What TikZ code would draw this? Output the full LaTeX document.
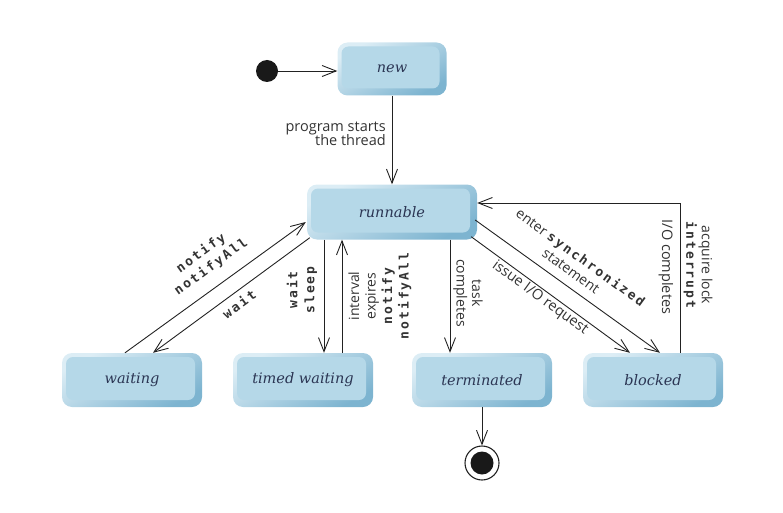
\documentclass[tikz,border=0pt]{standalone}
\usepackage{fontspec}
\setmainfont{Open Sans}
\newfontfamily\statefont{DejaVu Serif}
\newfontfamily\codefont[LetterSpace=16]{DejaVu Sans Mono}
\usetikzlibrary{arrows.meta,calc}

\definecolor{rimlight}{HTML}{DCEDF5}
\definecolor{rimdark}{HTML}{7DB4D0}
\definecolor{boxface}{HTML}{B5D8E8}
\definecolor{statetext}{HTML}{2B3553}
\definecolor{linecol}{HTML}{222222}
\definecolor{labelcol}{HTML}{333333}

\tikzset{
  state/.style={minimum width=140pt, minimum height=54pt, inner sep=0pt,
    rounded corners=10pt, top color=rimlight, bottom color=rimdark, shading angle=30,
    path picture={\fill[boxface, rounded corners=7pt]
      ([shift={(4pt,-4pt)}]path picture bounding box.north west) rectangle
      ([shift={(-7pt,7pt)}]path picture bounding box.south east);},
    font=\statefont\itshape\fontsize{14.5}{16}\selectfont, text=statetext},
  conn/.style={draw=linecol, line width=0.9pt, -{Straight Barb[length=14pt,width=11pt,line width=0.9pt]}},
  lbl/.style={font=\fontsize{14.5}{14.5}\selectfont, text=labelcol, inner sep=1pt, align=center},
  codelbl/.style={font=\codefont\bfseries\fontsize{13}{17}\selectfont, text=labelcol, inner sep=1pt, align=center}
}

\begin{document}
\begin{tikzpicture}[x=1pt, y=-1pt]
\useasboundingbox (0,0) rectangle (783,513);

% states
\node[state, minimum width=109pt, minimum height=53pt] (new) at (392,69) {new};
\node[state, minimum width=170pt, minimum height=55pt] (runnable) at (392,212) {runnable};
\node[state] (waiting) at (132,380) {waiting};
\node[state] (timed) at (303,380) {timed waiting};
\node[state] (terminated) at (482,380) {terminated};
\node[state] (blocked) at (653,380) {blocked};

% initial and final pseudo-states
\node[circle, fill=black!90, minimum size=22pt, inner sep=0pt] (init) at (267,71) {};
\node[circle, draw=linecol, line width=1.1pt, minimum size=34pt, inner sep=0pt,
  path picture={\fill[black!90] (path picture bounding box.center) circle (11.5pt);}] (final) at (482,463) {};

% start
\draw[conn] (init) -- (init -| new.west);
\draw[conn] (new.south) -- (runnable.north);
\node[lbl, anchor=east, align=right] (startlbl) at (387,134) {program starts\\the thread};

% runnable <-> waiting
\draw[conn] ($(waiting.north)+(-7,0)$) -- ($(runnable.west)+(-1,10)$);
\draw[conn] ($(runnable.south west)+(3,-2)$) -- ($(waiting.north)+(21,0)$);
\node[codelbl, rotate=36] (notifylbl) at (206,260) {notify\\notifyAll};
\node[codelbl, rotate=36] (waitlbl) at (239,304) {wait};

% runnable <-> timed waiting
\draw[conn] ($(runnable.south)+(-68,0)$) coordinate (tw1) -- (tw1 |- timed.north);
\draw[conn] ($(timed.north)+(39,0)$) coordinate (tw2) -- (tw2 |- runnable.south);
\node[codelbl, rotate=90] (sleeplbl) at (302,290) {wait\\sleep};
\node[lbl, rotate=90, font=\fontsize{14}{16.5}\selectfont] (intervallbl) at (380,296)
  {interval\\expires\\{\codefont\bfseries\fontsize{13}{16.5}\selectfont notify}\\{\codefont\bfseries\fontsize{13}{16.5}\selectfont notifyAll}};

% runnable -> terminated
\draw[conn] ($(runnable.south)+(58,0)$) coordinate (t1) -- (t1 |- terminated.north);
\node[lbl, rotate=-90, font=\fontsize{14}{15.5}\selectfont] (tasklbl) at (468,293) {task\\completes};

% runnable -> blocked
\draw[conn] ($(runnable.east)+(-2,8)$) -- ($(blocked.north)+(7,0)$);
\draw[conn] ($(runnable.south east)+(-6,-3)$) -- ($(blocked.north)+(-23,0)$);
\node[lbl, rotate=-36, font=\fontsize{14}{16.5}\selectfont] (synclbl) at (576,264)
  {enter {\codefont\bfseries\fontsize{13}{16.5}\selectfont synchronized}\\statement};
\node[lbl, rotate=-36] (iolbl) at (540,298) {issue I/O request};

% blocked -> runnable
\draw[conn] ($(blocked.north)+(27,0)$) |- ($(runnable.east)+(0,-9)$);
\node[lbl, rotate=-90] (iodonelbl) at (666,267) {I/O completes};
\node[lbl, rotate=-90, font=\fontsize{14}{15.5}\selectfont] (locklbl) at (698,265)
  {acquire lock\\{\codefont\bfseries\fontsize{13}{15.5}\selectfont interrupt}};

% end
\draw[conn] (terminated.south) -- (final);
\end{tikzpicture}
\end{document}
